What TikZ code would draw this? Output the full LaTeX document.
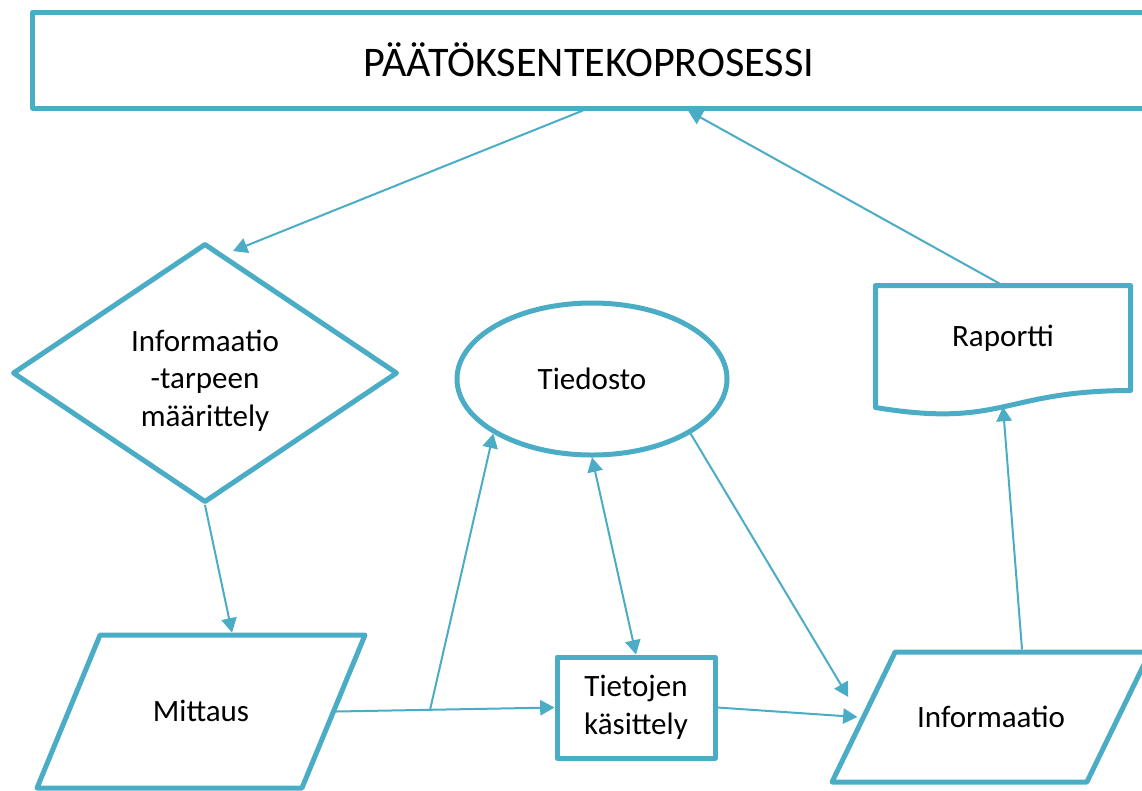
\documentclass[tikz,border=0pt]{standalone}
\usepackage{fontspec}
\setmainfont{Carlito}
\usetikzlibrary{arrows.meta, shapes.geometric, calc}
\definecolor{caqua}{HTML}{4BACC6}
\tikzset{
  every picture/.style={line width=0.6mm},
  >={Triangle[length=4.3mm, width=4.6mm]},
  shp/.style={draw=caqua, line width=1.5mm, line join=round, align=center, inner sep=0pt,
    font=\fontsize{26.5}{32}\selectfont},
  arrow/.style={->, draw=caqua, fill=caqua, line width=0.6mm},
  twoway/.style={<->, draw=caqua, fill=caqua, line width=0.6mm},
}

\begin{document}
\begin{tikzpicture}[x=0.3mm, y=-0.3mm,
  para/.style={shp, trapezium, trapezium stretches body},
  outline/.style={draw=caqua, line width=1.5mm, line join=round}]
  \useasboundingbox (0,0) rectangle (1142,790);
  \node[shp, minimum width=333.6mm, minimum height=28.8mm, font=\fontsize{36}{43}\selectfont]
    (top) at (589,60) {PÄÄTÖKSENTEKOPROSESSI};
  \node[shp, diamond, shape aspect=1.5, minimum width=115.5mm, minimum height=77.7mm]
    (need) at (205,373) {\rule{0pt}{11mm}Informaatio\\-tarpeen\\määrittely};
  \node[shp, ellipse, minimum width=81mm, minimum height=45.6mm] (file) at (592,379) {Tiedosto};
  \node[shp, draw=none, minimum width=75mm, minimum height=30mm] (rap) at (1003,338) {Raportti};
  \draw[outline] (rap.north west) -- (rap.north east) -- (rap.south east)
    .. controls (rap.south) and ($(rap.south)+(0,38)$) .. ($(rap.south west)+(0,17)$)
    coordinate[pos=0.5] (rapbot) -- cycle;
  \node[para, trapezium left angle=67.6, trapezium right angle=112.4, text height=25.95mm,
    text depth=19.95mm, minimum width=98.4mm] (mitt) at (201,711.5) {Mittaus};
  \node[shp, minimum width=47.4mm, minimum height=30.3mm] (proc) at (636,707.5) {Tietojen\\käsittely};
  \node[para, trapezium left angle=64.1, trapezium right angle=115.9, text height=22.5mm,
    text depth=16.5mm, minimum width=95.4mm] (info) at (991,717) {Informaatio};

  \draw[arrow] ([xshift=-1.8mm]top.south) -- ([shift={(8.4mm,-3mm)}]need.north);
  \draw[arrow] (rap.north) -- ([xshift=29.7mm]top.south);
  \draw[arrow] (need.south) -- ([xshift=9.3mm]mitt.north);
  \draw[arrow] (mitt.east) -- coordinate[pos=0.43] (branch) (proc.west);
  \draw[arrow] (branch) -- (file.209);
  \draw[twoway] (file.south) -- (proc.north);
  \draw[arrow] (file.-29) -- ([shift={(-3.75mm,6mm)}]info.west);
  \draw[arrow] (proc.east) -- ([xshift=-1mm]info.west);
  \draw[arrow] ([xshift=9.3mm]info.north) -- (rapbot);
\end{tikzpicture}
\end{document}
